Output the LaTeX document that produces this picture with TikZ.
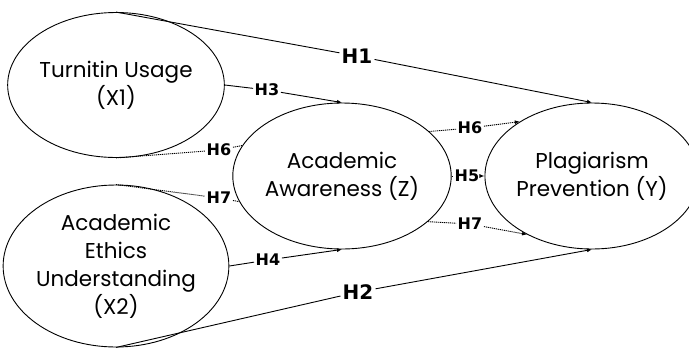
\documentclass[tikz,border=0pt]{standalone}
\usepackage{fontspec}
\setmainfont{Poppins}
\newfontfamily\hfont{DejaVu Sans}
\usetikzlibrary{shapes.geometric,arrows.meta}
\begin{document}
\begin{tikzpicture}[x=1pt,y=-1pt,
  construct/.style={draw, ellipse, line width=0.9pt, inner sep=0pt, align=center,
     font=\fontsize{21.5}{28}\selectfont},
  hlab/.style={inner sep=1.5pt, font=\hfont\bfseries\fontsize{16}{16}\selectfont},
  hbig/.style={inner sep=2pt, font=\hfont\bfseries\fontsize{20}{20}\selectfont},
  path/.style={line width=0.9pt},
  dpath/.style={line width=0.9pt, dash pattern=on 1.2pt off 0.8pt},
  tip/.style={-{Latex[length=5pt,width=4pt]}}
]
\useasboundingbox (0,0) rectangle (689,349);
\node[construct, minimum width=204pt, minimum height=145pt] (X1) at (116,85) {Turnitin Usage\\(X1)};
\node[construct, minimum width=204pt, minimum height=162pt] (X2) at (116,266) {Academic\\Ethics\\Understanding\\(X2)};
\node[construct, minimum width=205pt, minimum height=146pt] (Z) at (342,176) {Academic\\Awareness (Z)};
\node[construct, minimum width=193pt, minimum height=146pt] (Y) at (592,176) {Plagiarism\\Prevention (Y)};

\node[hbig] (h1) at (357,56) {H1};
\node[hbig] (h2) at (358,292) {H2};
\node[hlab] (h3) at (267,90) {H3};
\node[hlab] (h4) at (268,260) {H4};
\node[hlab] (h6a) at (219,150) {H6};
\node[hlab] (h7a) at (219,198) {H7};
\node[hlab] (h6b) at (470,128) {H6};
\node[hlab] (h5) at (467,176) {H5};
\node[hlab] (h7b) at (470,224) {H7};

\draw[path] (X1.north) -- (h1);
\draw[path,tip] (h1) -- (Y.north);
\draw[path] (X2.south) -- (h2);
\draw[path,tip] (h2) -- (Y.south);
\draw[path] (X1.east) -- (h3);
\draw[path,tip] (h3) -- (Z.north);
\draw[path] (X2.east) -- (h4);
\draw[path,tip] (h4) -- (Z.south);
\draw[path] (Z.east) -- (h5);
\draw[path,tip] (h5) -- (Y.west);
\draw[dpath] (X1.south) -- (h6a);
\draw[dpath] (h6a) -- (Z.163);
\draw[dpath] (X2.north) -- (h7a);
\draw[dpath] (h7a) -- (Z.194);
\draw[dpath] (Z.27) -- (h6b);
\draw[dpath,tip] (h6b) -- (Y.143);
\draw[dpath] (Z.-28) -- (h7b);
\draw[dpath,tip] (h7b) -- (Y.222);
\end{tikzpicture}
\end{document}
